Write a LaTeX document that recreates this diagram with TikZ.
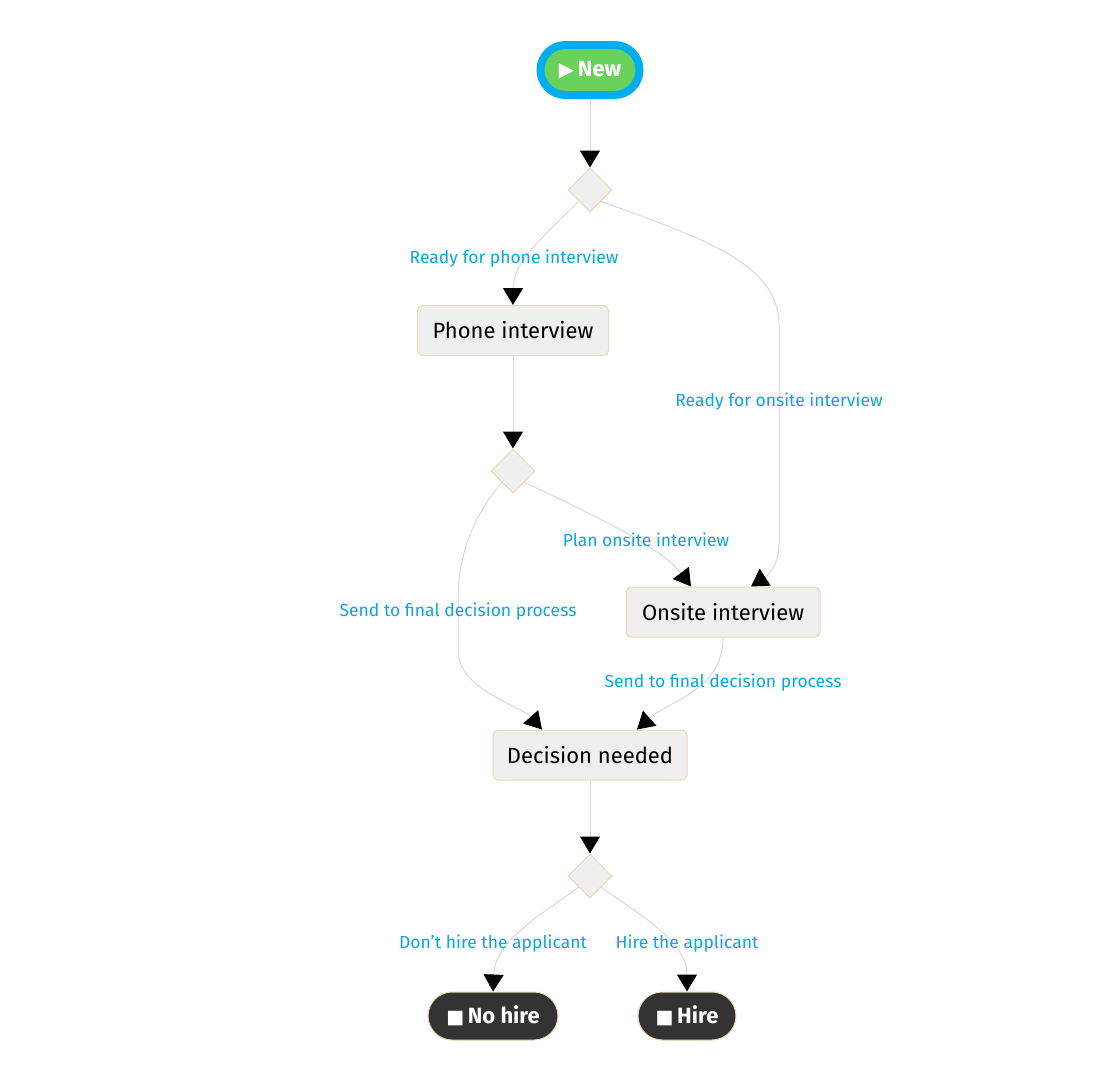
\documentclass[tikz,border=0pt]{standalone}
\usepackage{fontspec}
\setmainfont{Fira Sans}
\newfontfamily\symfont{DejaVu Sans}
\usetikzlibrary{arrows.meta,shapes.geometric}
\definecolor{lblblue}{HTML}{0AA6DF}
\definecolor{ringblue}{HTML}{00AEEF}
\definecolor{startgreen}{HTML}{69D25C}
\definecolor{edgegrey}{HTML}{D9D9D9}
\definecolor{boxfill}{HTML}{EFEFEF}
\definecolor{boxline}{HTML}{EAD9AE}
\definecolor{endfill}{HTML}{333333}
\tikzset{
  statebox/.style={draw=boxline, fill=boxfill, line width=1pt, rounded corners=5pt,
    minimum height=50pt, inner xsep=11pt, font=\fontsize{22}{26}\selectfont, text=black},
  choice/.style={diamond, aspect=1, draw=boxline, fill=boxfill, line width=1pt,
    minimum width=44pt, minimum height=44pt, inner sep=0pt},
  endpill/.style={draw=boxline, fill=endfill, line width=1pt, rounded corners=24pt,
    minimum height=48pt, text=white, font=\fontsize{22}{26}\selectfont\bfseries},
  lbl/.style={text=lblblue, font=\fontsize{17.5}{20}\selectfont, inner sep=0pt},
  flow/.style={draw=edgegrey, line width=1pt, -{Triangle[width=20pt,length=17pt,fill=black,color=black]}},
}
\begin{document}
\begin{tikzpicture}[x=1pt,y=-1pt]
\useasboundingbox (0,0) rectangle (1117,1082);
% nodes
\node[draw=ringblue, line width=8pt, fill=startgreen, rounded corners=25pt,
  minimum width=99pt, minimum height=50pt, text=white, inner xsep=6pt,
  font=\fontsize{22}{26}\selectfont\bfseries] (new) at (590,70)
  {{\symfont\fontsize{20}{24}\selectfont ▶}\,New};
\node[choice] (d1) at (590,190) {};
\node[statebox, minimum width=191pt] (phone) at (513,330.5) {Phone interview};
\node[choice] (d2) at (513,471) {};
\node[statebox, minimum width=194pt] (onsite) at (723,612) {Onsite interview};
\node[statebox, minimum width=194pt] (decision) at (590,755) {Decision needed};
\node[choice] (d3) at (590,876) {};
\node[endpill, minimum width=130pt] (nohire) at (493,1016) {{\symfont\fontsize{19}{22}\selectfont ■}\,No hire};
\node[endpill, minimum width=98pt] (hire) at (687,1016) {{\symfont\fontsize{19}{22}\selectfont ■}\,Hire};
% edges
\draw[flow] (new.south) -- (d1.north);
\draw[flow] (d1.south west) .. controls (540,240) and (513,262) .. (phone.north);
\draw[flow] (d1.south east) .. controls (700,238) and (779,262) .. (779,325) -- (779,545)
  .. controls (779,566) and (767,576) .. ([xshift=28pt]onsite.north);
\draw[flow] (phone.south) -- (d2.north);
\draw[flow] (d2.south east) .. controls (600,518) and (662,548) .. ([xshift=-32pt]onsite.north);
\draw[flow] (d2.south west) .. controls (470,520) and (458,560) .. (458,600) -- (458,650)
  .. controls (458,690) and (520,705) .. ([xshift=-48pt]decision.north);
\draw[flow] (onsite.south) .. controls (723,690) and (670,700) .. ([xshift=47pt]decision.north);
\draw[flow] (decision.south) -- (d3.north);
\draw[flow] (d3.south west) .. controls (545,912) and (495,940) .. (nohire.north);
\draw[flow] (d3.south east) .. controls (635,912) and (687,940) .. (hire.north);
% labels
\node[lbl] (l1) at (514,259) {Ready for phone interview};
\node[lbl] (l2) at (779,402) {Ready for onsite interview};
\node[lbl] (l3) at (646,540) {Plan onsite interview};
\node[lbl] (l4) at (458,612) {Send to final decision process};
\node[lbl] (l5) at (723,683) {Send to final decision process};
\node[lbl] (l6) at (493,944) {Don't hire the applicant};
\node[lbl] (l7) at (687,944) {Hire the applicant};
\end{tikzpicture}
\end{document}
